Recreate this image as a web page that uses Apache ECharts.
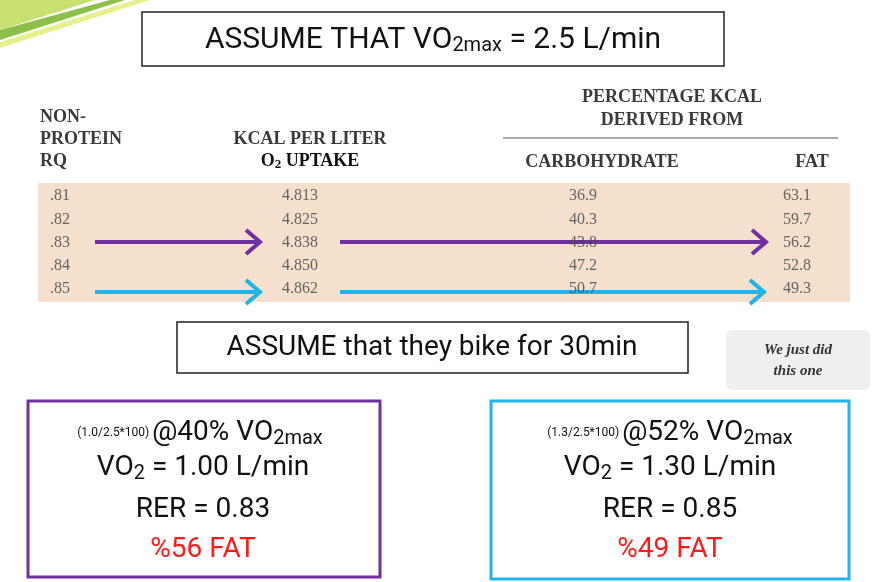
<!DOCTYPE html>
<html><head><meta charset="utf-8">
<script src="https://cdn.jsdelivr.net/npm/echarts@6/dist/echarts.min.js"></script>
<style>html,body{margin:0;padding:0;background:#fff}#c{width:875px;height:582px}</style>
</head><body><div id="c"></div>
<script>
const rq = ['.81','.82','.83','.84','.85'];
const kcal = ['4.813','4.825','4.838','4.850','4.862'];
const carb = ['36.9','40.3','43.8','47.2','50.7'];
const fat = ['63.1','59.7','56.2','52.8','49.3'];
const colX = {rq:50, kcal:300, carb:583, fat:797};

const chart = echarts.init(document.getElementById('c'));
const serif = 'Liberation Serif';
const sans = 'Roboto';
function mk(arr, x, align){
  return {type:'scatter', symbolSize:0, silent:true,
    data: arr.map((v,i)=>({value:[x,rq[i]], label:{formatter:v}})),
    label:{show:true, position:'inside', align:align, fontFamily:serif, fontSize:16, color:'#444'}};
}
function arrow(x1,x2,y,color){
  return [
    {type:'line', shape:{x1:x1,y1:y,x2:x2-2,y2:y}, style:{stroke:color,lineWidth:4}},
    {type:'polyline', shape:{points:[[x2-14,y-12],[x2,y],[x2-14,y+12]]}, style:{fill:'none',stroke:color,lineWidth:4,lineJoin:'miter'}}
  ];
}
function t(x,y,text,opt){
  return Object.assign({type:'text', x:x, y:y, style:Object.assign({text:text, fontFamily:sans, fontSize:28, fill:'#111', textVerticalAlign:'middle'}, opt||{})});
}
const H = {fontFamily:serif,fontSize:18,fontWeight:'bold',fill:'#3a3a3a'};
function h(x,y,text,align){ return t(x,y,text,Object.assign({textAlign:align||'left'},H)); }
const rich = {s:{fontSize:20, fontFamily:sans, verticalAlign:'bottom', padding:[12,0,0,0]}, m:{fontSize:12,fontFamily:sans}};
const purple='#7030a0', blue='#1fb5e8';
const graphic = [
  {type:'polygon', shape:{points:[[0,0],[95,0],[0,30]]}, style:{fill:'#c8e070'}},
  {type:'polygon', shape:{points:[[0,30],[110,0],[125,0],[0,40]]}, style:{fill:'#8cc04a'}},
  {type:'polygon', shape:{points:[[0,42],[135,0],[150,0],[0,48]]}, style:{fill:'#e6f08c'}},
  {type:'rect', z:-1, shape:{x:38,y:183,width:812,height:119}, style:{fill:'#f5dfcd'}},
  {type:'rect', shape:{x:142,y:12,width:582,height:54}, style:{fill:'#fff',stroke:'#222',lineWidth:1.5}},
  t(433,40,'{a|ASSUME THAT VO}{s|2max}{a| = 2.5 L/min}',{textAlign:'center', rich:{a:{fontSize:30,fontFamily:sans},s:rich.s}}),
  h(40,117,'NON-'), h(40,139,'PROTEIN'), h(40,161,'RQ'),
  h(310,139,'KCAL PER LITER','center'),
  t(310,161,'{a|O}{b|2}{a| UPTAKE}',{textAlign:'center',rich:{a:{fontFamily:serif,fontSize:18,fontWeight:'bold',color:'#3a3a3a'},b:{fontFamily:serif,fontSize:13,fontWeight:'bold',color:'#3a3a3a',padding:[8,0,0,0]}}}),
  h(672,97,'PERCENTAGE KCAL','center'),
  h(672,120,'DERIVED FROM','center'),
  {type:'line', shape:{x1:503,y1:138,x2:838,y2:138}, style:{stroke:'#555',lineWidth:1}},
  h(602,162,'CARBOHYDRATE','center'),
  h(812,162,'FAT','center'),
  ...arrow(95,260,242,purple), ...arrow(340,766,242,purple),
  ...arrow(95,260,292,blue), ...arrow(340,764,292,blue),
  {type:'rect', shape:{x:177,y:322,width:511,height:51}, style:{fill:'#fff',stroke:'#222',lineWidth:1.5}},
  t(432,348,'ASSUME that they bike for 30min',{textAlign:'center'}),
  {type:'rect', shape:{x:726,y:330,width:144,height:60,r:6}, style:{fill:'#efefef'}},
  t(798,350,'We just did',{fontFamily:serif,fontStyle:'italic',fontWeight:'bold',fontSize:15,fill:'#333',textAlign:'center'}),
  t(798,371,'this one',{fontFamily:serif,fontStyle:'italic',fontWeight:'bold',fontSize:15,fill:'#333',textAlign:'center'}),
  {type:'rect', shape:{x:28,y:401,width:352,height:176}, style:{fill:'none',stroke:purple,lineWidth:3}},
  {type:'rect', shape:{x:491,y:401,width:358,height:178}, style:{fill:'none',stroke:blue,lineWidth:3}},
  t(200,433,'{m|(1.0/2.5*100) }{a|@40% VO}{s|2max}',{textAlign:'center',rich:{a:{fontSize:28,fontFamily:sans},s:rich.s,m:rich.m}}),
  t(203,468,'{a|VO}{s|2}{a| = 1.00 L/min}',{textAlign:'center',rich:{a:{fontSize:28,fontFamily:sans},s:rich.s}}),
  t(203,510,'RER = 0.83',{textAlign:'center'}),
  t(203,550,'%56 FAT',{textAlign:'center',fill:'#ff1a1a'}),
  t(670,433,'{m|(1.3/2.5*100) }{a|@52% VO}{s|2max}',{textAlign:'center',rich:{a:{fontSize:28,fontFamily:sans},s:rich.s,m:rich.m}}),
  t(670,468,'{a|VO}{s|2}{a| = 1.30 L/min}',{textAlign:'center',rich:{a:{fontSize:28,fontFamily:sans},s:rich.s}}),
  t(670,510,'RER = 0.85',{textAlign:'center'}),
  t(670,550,'%49 FAT',{textAlign:'center',fill:'#ff1a1a'})
];
chart.setOption({
  animation:false,
  grid:{left:0, width:875, top:184.5, height:116},
  xAxis:{type:'value', min:0, max:875, show:false},
  yAxis:{type:'category', data:rq, inverse:true, show:false},
  series:[mk(rq,colX.rq,'left'), mk(kcal,colX.kcal,'center'), mk(carb,colX.carb,'center'), mk(fat,colX.fat,'center')],
  graphic: graphic
});
</script></body></html>
